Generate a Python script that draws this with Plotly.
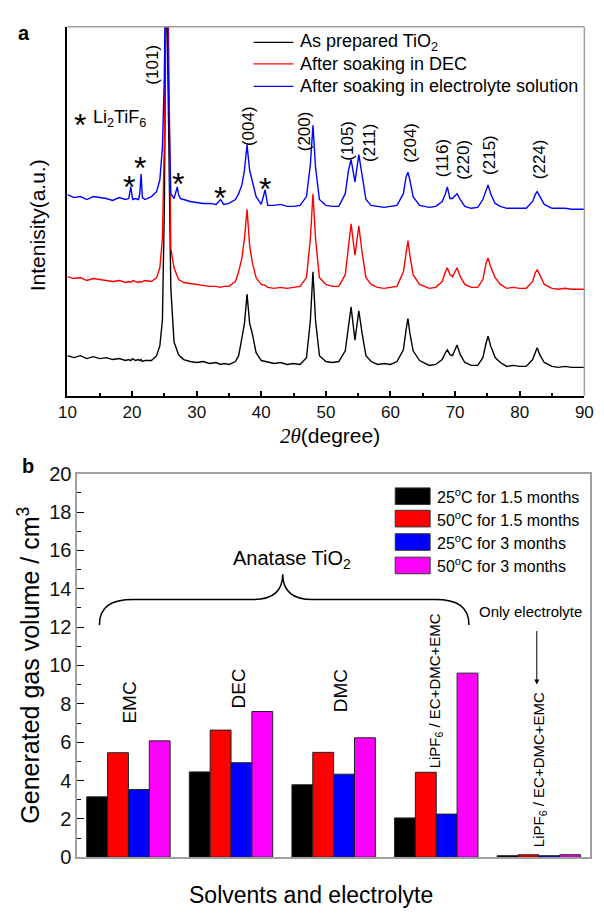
import plotly.graph_objects as go

# ---------------- Panel a: XRD patterns ----------------
two_theta = [
    10, 11, 12, 13, 14, 15, 16, 17, 18, 19,
    19.5, 19.8, 20.1, 20.5, 21, 21.2, 21.4, 21.6, 22, 23,
    23.8, 24.3, 24.7, 25.0, 25.3, 25.6, 26.0, 26.5, 27.0, 27.2,
    27.5, 28, 29, 30, 31, 32, 33, 33.7, 34.2, 35,
    36, 36.5, 37.0, 37.4, 37.8, 38.2, 38.6, 39.2, 40, 40.6,
    41, 42, 43, 44, 45, 46, 47, 47.6, 48.0, 48.4,
    49, 50, 51, 52, 53, 53.5, 53.9, 54.5, 55.1, 55.6,
    56.2, 57, 58, 59, 60, 61, 62, 62.4, 62.7, 63.0,
    63.5, 64.5, 66, 67, 68, 68.5, 68.8, 69.2, 69.6, 70.3,
    70.8, 71.5, 72.5, 73.5, 74.3, 74.8, 75.1, 75.5, 76.2, 77,
    78, 79, 80, 81, 82, 82.4, 82.7, 83.1, 83.8, 85,
    86, 87, 88, 89, 90,
]
intensity_prepared = [
    41, 39, 41, 38, 40, 38, 39, 37, 38, 36,
    37, 36, 38, 36, 37, 36, 37, 35, 36, 36,
    41, 51, 77, 194, 450, 300, 110, 55, 44, 42,
    40, 37, 35, 34, 35, 33, 34, 32, 33, 32,
    35, 41, 59, 74, 104, 74, 64, 44, 36, 35,
    34, 33, 34, 32, 33, 32, 39, 77, 127, 77,
    41, 35, 34, 35, 46, 74, 91, 57, 87, 64,
    41, 35, 32, 33, 32, 35, 47, 67, 79, 64,
    46, 36, 31, 32, 37, 44, 47, 42, 41, 52,
    42, 34, 31, 31, 39, 54, 61, 51, 39, 34,
    30, 31, 30, 30, 37, 44, 49, 42, 34, 30,
    29, 30, 29, 29, 29,
]
intensity_dec = [
    122, 120, 121, 118, 120, 119, 118, 117, 118, 116,
    117, 116, 118, 117, 116, 117, 116, 117, 118, 117,
    121, 131, 161, 261, 480, 400, 151, 131, 121, 119,
    118, 116, 115, 114, 113, 112, 112, 111, 112, 112,
    117, 127, 141, 161, 191, 154, 137, 121, 114, 113,
    111, 110, 111, 110, 111, 112, 121, 161, 207, 161,
    121, 114, 112, 112, 124, 154, 176, 144, 174, 147,
    121, 114, 111, 110, 111, 112, 127, 147, 159, 144,
    124, 114, 110, 111, 117, 127, 131, 124, 122, 131,
    122, 114, 111, 111, 119, 136, 141, 132, 121, 114,
    110, 111, 110, 110, 117, 126, 129, 124, 114, 110,
    109, 110, 109, 109, 109,
]
intensity_electrolyte = [
    206, 203, 204, 201, 204, 203, 202, 200, 203, 201,
    202, 214, 201, 202, 201, 207, 227, 203, 201, 204,
    209, 221, 254, 327, 500, 330, 207, 202, 214, 206,
    202, 201, 199, 198, 197, 197, 196, 201, 196, 197,
    201, 207, 216, 231, 257, 231, 221, 204, 196, 211,
    195, 195, 196, 194, 194, 195, 204, 237, 277, 234,
    201, 195, 194, 194, 207, 231, 242, 219, 247, 224,
    201, 195, 194, 193, 194, 195, 207, 224, 229, 221,
    204, 195, 193, 194, 199, 207, 214, 202, 202, 207,
    201, 194, 192, 193, 201, 212, 216, 207, 197, 194,
    192, 192, 192, 192, 199, 206, 209, 204, 196, 192,
    192, 192, 191, 191, 191,
]
xrd_names = ["As prepared TiO<sub>2</sub>", "After soaking in DEC",
             "After soaking in electrolyte solution"]
xrd_colors = ["#000000", "#ff0000", "#0000ff"]
xrd_ticks = [10, 20, 30, 40, 50, 60, 70, 80, 90]
hkl_labels = ["(101)", "(004)", "(200)", "(105)", "(211)", "(204)",
              "(116)", "(220)", "(215)", "(224)"]

# ---------------- Panel b: gas volume ----------------
categories = ["EMC", "DEC", "DMC", "LiPF6 / EC+DMC+EMC (TiO2)",
              "LiPF6 / EC+DMC+EMC (only)"]
gas_25c_15m = [3.15, 4.45, 3.78, 2.05, 0.08]
gas_50c_15m = [5.45, 6.63, 5.47, 4.43, 0.13]
gas_25c_3m = [3.53, 4.93, 4.33, 2.25, 0.08]
gas_50c_3m = [6.07, 7.60, 6.23, 9.60, 0.13]
gas_names = ["25<sup>o</sup>C for 1.5 months", "50<sup>o</sup>C for 1.5 months",
             "25<sup>o</sup>C for 3 months", "50<sup>o</sup>C for 3 months"]
gas_colors = ["#000000", "#ff0000", "#0000ff", "#ff00ff"]
gas_ticks = [0, 2, 4, 6, 8, 10, 12, 14, 16, 18, 20]

# page has an 8px body margin: figure sits at (8, 8) in the window
OFF = 8
W, H = 604 - OFF, 918 - OFF
FONT = "Liberation Sans, Arial, sans-serif"


def PX(x):
    return (x - OFF) / W


def PY(y):
    return 1 - (y - OFF) / H


fig = go.Figure()

for ys, name, color in zip([intensity_prepared, intensity_dec, intensity_electrolyte],
                           xrd_names, xrd_colors):
    fig.add_trace(go.Scatter(x=two_theta, y=ys, mode="lines", name=name,
                             line=dict(color=color, width=1.4),
                             xaxis="x", yaxis="y", showlegend=False))

for vals, name, color in zip([gas_25c_15m, gas_50c_15m, gas_25c_3m, gas_50c_3m],
                             gas_names, gas_colors):
    fig.add_trace(go.Bar(x=categories, y=vals, name=name,
                         marker=dict(color=color, line=dict(color="#222222", width=1)),
                         xaxis="x2", yaxis="y2", showlegend=False))

shapes = []
annotations = []


def ann(x, y, text, size, angle=0, xanchor="center", bold=False, **kw):
    annotations.append(dict(
        x=PX(x), y=PY(y), xref="paper", yref="paper", text=text,
        showarrow=False, textangle=angle, xanchor=xanchor, yanchor="middle",
        font=dict(family=FONT, size=size, color="#000000",
                  weight="bold" if bold else "normal"), **kw))


# frame lines (top / right of panel a in gray)
shapes.append(dict(type="line", xref="paper", yref="paper",
                   x0=PX(60), x1=PX(593), y0=PY(16), y1=PY(16),
                   line=dict(color="#a0a0a0", width=1.5)))
shapes.append(dict(type="line", xref="paper", yref="paper",
                   x0=PX(593), x1=PX(593), y0=PY(16), y1=PY(394),
                   line=dict(color="#a0a0a0", width=1.5)))

# legend of panel a
for i, (name, color) in enumerate(zip(xrd_names, xrd_colors)):
    yy = [32, 54, 77][i]
    shapes.append(dict(type="line", xref="paper", yref="paper",
                       x0=PX(252), x1=PX(293), y0=PY(yy), y1=PY(yy),
                       line=dict(color=color, width=1.2)))
    ann(298, yy, name, 18, xanchor="left")

# hkl labels
hkl_pos = [(148, 55), (247, 118), (304, 123), (349, 133), (372, 135), (414, 135),
           (447, 151), (468, 152), (495, 147), (547, 152)]
for lab, (x, y) in zip(hkl_labels, hkl_pos):
    ann(x, y, lab, 17, angle=-90)

# Li2TiF6 asterisks
for (x, y) in [(124, 173), (135, 154), (174, 170), (217, 184), (264, 175)]:
    ann(x, y + 7, "*", 32)
ann(73, 117, "*", 32)
ann(84, 110, "Li<sub>2</sub>TiF<sub>6</sub>", 18, xanchor="left")

ann(15, 22, "a", 20, bold=True)
ann(30, 219, "Intenisity(a.u.)", 21, angle=-90)
ann(331, 435, "<span style='font-family:Liberation Serif;font-style:italic'>2θ</span>(degree)", 21)

# ---------------- panel b decorations ----------------
ann(19, 466, "b", 20, bold=True)
ann(20, 670, "Generated gas volume / cm<sup>3</sup>", 25, angle=-90)
ann(311, 906, "Solvents and electrolyte", 23)

# custom legend
for i, (name, color) in enumerate(zip(gas_names, gas_colors)):
    cy = [497, 520, 544, 568][i]
    shapes.append(dict(type="rect", xref="paper", yref="paper",
                       x0=PX(398), x1=PX(434), y0=PY(cy + 8.5), y1=PY(cy - 8.5),
                       fillcolor=color, line=dict(color="#333333", width=1)))
    ann(439, cy, name, 16, xanchor="left")

# group labels
ann(124, 708, "EMC", 19, angle=-90)
ann(236, 694, "DEC", 19, angle=-90)
ann(341, 696, "DMC", 19, angle=-90)
ann(439, 696, "LiPF<sub>6</sub> / EC+DMC+EMC", 15, angle=-90)
ann(547, 777, "LiPF<sub>6</sub> / EC+DMC+EMC", 15, angle=-90)
ann(292, 562, "Anatase TiO<sub>2</sub>", 20)
ann(538, 615, "Only electrolyte", 15)

# arrow
annotations.append(dict(x=PX(544), y=PY(690), xref="paper", yref="paper",
                        ax=0, ay=-55, text="", showarrow=True, arrowhead=2,
                        arrowsize=1, arrowwidth=1, arrowcolor="#000000"))

# curly brace
pts = [(93, 629), (93, 610), (105, 603), (128, 603), (251, 603),
       (270, 603), (282, 595), (282, 577), (282, 595), (294, 603), (313, 603),
       (439, 603), (462, 603), (474, 610), (474, 629)]
P = [f"{PX(x):.5f},{PY(y):.5f}" for x, y in pts]
path = (f"M {P[0]} C {P[1]} {P[2]} {P[3]} L {P[4]} C {P[5]} {P[6]} {P[7]} "
        f"C {P[8]} {P[9]} {P[10]} L {P[11]} C {P[12]} {P[13]} {P[14]}")
shapes.append(dict(type="path", xref="paper", yref="paper", path=path,
                   line=dict(color="#000000", width=1.5)))

fig.update_layout(
    width=W, height=H, margin=dict(l=0, r=0, t=0, b=0),
    paper_bgcolor="white", plot_bgcolor="white",
    barmode="group", bargap=0.187, bargroupgap=0,
    showlegend=False,
    font=dict(family=FONT, color="#000000"),
    xaxis=dict(domain=[PX(60), PX(593)], anchor="y", range=[10, 90],
               tickmode="array", tickvals=xrd_ticks, ticks="inside", ticklen=5,
               tickwidth=1.5, tickcolor="#000000",
               minor=dict(dtick=5, tick0=10, ticks="inside", ticklen=3,
                          tickwidth=1.5, tickcolor="#000000"),
               showline=True, linecolor="#000000", linewidth=1.5,
               showgrid=False, zeroline=False,
               tickfont=dict(family=FONT, size=17, color="#111111")),
    yaxis=dict(domain=[PY(394), PY(16)], anchor="x", range=[0, 378],
               showticklabels=False, ticks="", showline=True,
               linecolor="#000000", linewidth=1.5, showgrid=False, zeroline=False),
    xaxis2=dict(domain=[PX(70), PX(599)], anchor="y2", type="category",
                range=[-0.5, 4.5], showticklabels=False, ticks="",
                showline=True, linecolor="#a0a0a0", linewidth=1.5, mirror=True,
                showgrid=False, zeroline=False),
    yaxis2=dict(domain=[PY(867), PY(474)], anchor="x2", range=[0, 20],
                tickmode="array", tickvals=gas_ticks, ticks="inside", ticklen=7,
                tickwidth=1.2, tickcolor="#000000",
                minor=dict(dtick=1, tick0=0, ticks="inside", ticklen=4,
                           tickwidth=1.2, tickcolor="#000000"),
                showline=True, linecolor="#a0a0a0", linewidth=1.5, mirror=True,
                showgrid=False, zeroline=False,
                tickfont=dict(family=FONT, size=20, color="#111111")),
    shapes=shapes, annotations=annotations,
)

fig.write_html("out.html")
